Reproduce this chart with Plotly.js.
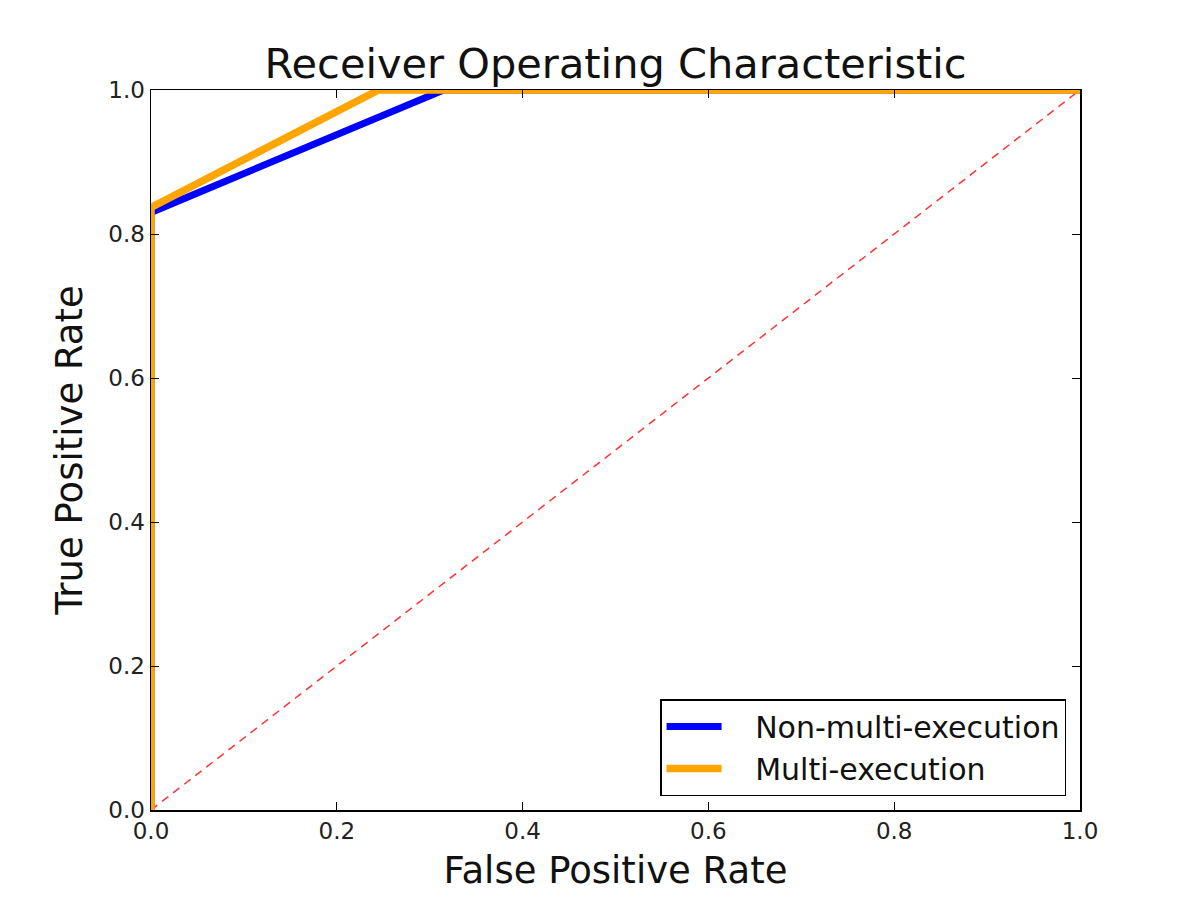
<!DOCTYPE html>
<html>
<head>
<meta charset="utf-8">
<script src="https://cdn.plot.ly/plotly-3.0.1.min.js"></script>
<style>html,body{margin:0;padding:0;background:#fff;}#chart{width:1200px;height:900px;}</style>
</head>
<body>
<div id="chart"></div>
<script>
const fprNon = [0, 0, 0.315, 1];
const tprNon = [0, 0.83, 1, 1];
const fprMulti = [0, 0, 0.245, 1];
const tprMulti = [0, 0.837, 1, 1];
const diagX = [0, 1];
const diagY = [0, 1];
const tickVals = [0, 0.2, 0.4, 0.6, 0.8, 1.0];
const tickText = ['0.0', '0.2', '0.4', '0.6', '0.8', '1.0'];
const seriesNames = ['Non-multi-execution', 'Multi-execution'];

const font = 'DejaVu Sans, sans-serif';
const pad = '\u00a0\u00a0\u00a0';
const traces = [
  {x: diagX, y: diagY, mode: 'lines', line: {color: '#ff3333', width: 1.5, dash: '8px,6px'}, showlegend: false, hoverinfo: 'skip'},
  {x: fprNon, y: tprNon, mode: 'lines', name: pad + seriesNames[0], line: {color: '#0000ff', width: 7}},
  {x: fprMulti, y: tprMulti, mode: 'lines', name: pad + seriesNames[1], line: {color: '#ffa500', width: 7.5}}
];
const axisCommon = {
  range: [0, 1], tickvals: tickVals, ticktext: tickText, ticks: 'inside', ticklen: 8, tickwidth: 1, tickcolor: '#000',
  mirror: 'ticks', showline: true, linecolor: '#000', linewidth: 1.5, showgrid: false, zeroline: false,
  tickfont: {family: font, size: 23, color: '#222'}
};
const layout = {
  width: 1200, height: 900,
  margin: {l: 151, r: 120, t: 90, b: 90},
  paper_bgcolor: '#fff', plot_bgcolor: '#fff',
  title: {text: 'Receiver Operating Characteristic', font: {family: font, size: 41.5, color: '#111'}, x: 0.513, xanchor: 'center', y: 0.93, yanchor: 'middle'},
  xaxis: Object.assign({}, axisCommon, {automargin: false, title: {text: 'False Positive Rate', font: {family: font, size: 37, color: '#111'}, standoff: 14}}),
  yaxis: Object.assign({}, axisCommon, {automargin: false, title: {text: 'True Positive Rate', font: {family: font, size: 37, color: '#111'}, standoff: 14}}),
  legend: {x: 0.985, xanchor: 'right', y: 0.0194, yanchor: 'bottom', bordercolor: '#000', borderwidth: 1.5, bgcolor: '#fff',
    font: {family: font, size: 30, color: '#111'}, itemwidth: 55, tracegroupgap: 4},
  showlegend: true
};
Plotly.newPlot('chart', traces, layout, {displayModeBar: false, staticPlot: true});
</script>
</body>
</html>
